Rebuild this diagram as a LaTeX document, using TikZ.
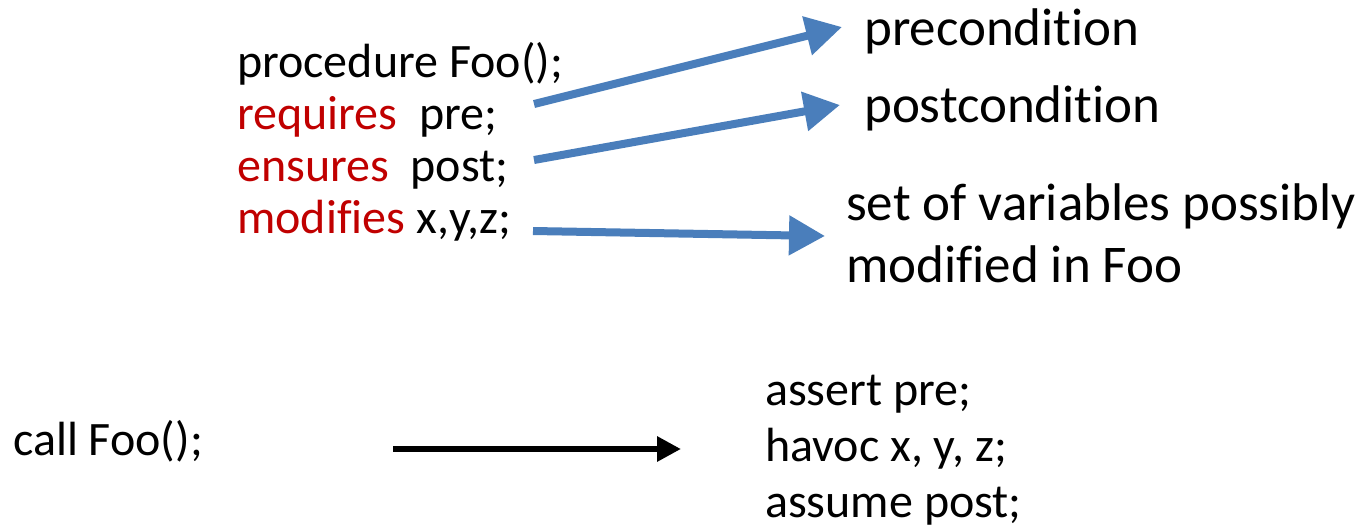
\documentclass[tikz,border=0pt]{standalone}
\usepackage{fontspec}
\setmainfont[Ligatures=CommonOff]{Carlito}
\usetikzlibrary{arrows.meta}
\definecolor{rot}{HTML}{C00000}
\definecolor{blau}{HTML}{4A7EBB}

\begin{document}
\begin{tikzpicture}[x=1pt,y=-1pt,
        code/.style={anchor=base west, inner sep=0pt, font=\fontsize{48}{50}\selectfont},
        erklaerung/.style={anchor=base west, inner sep=0pt, font=\fontsize{53}{60}\selectfont},
        blaupfeil/.style={draw=blau, line width=8pt, -{Triangle[length=36pt,width=38pt]}},
        schwarzpfeil/.style={draw=black, line width=6pt, -{Triangle[length=24pt,width=24pt]}}]
        \useasboundingbox (0,0) rectangle (1363,528);

        % Spezifikation
        \node [code] (prozedur) at (237,77) {procedure Foo();};
        \node [code] (requires) at (237,129) {\textcolor{rot}{requires}\ \ pre;};
        \node [code] (ensures) at (237,181) {\textcolor{rot}{ensures}\ \ post;};
        \node [code] (modifies) at (237,233) {\textcolor{rot}{modifies} x,y,z;};

        % Erklaerungen
        \node [erklaerung] (vorbedingung) at (864,45) {precondition};
        \node [erklaerung] (nachbedingung) at (864,122) {postcondition};
        \node [erklaerung] (variablen) at (846,220) {set of variables possibly};
        \node [erklaerung] (variablen2) at (846,282) {modified in Foo};

        % Aufruf
        \node [code] (aufruf) at (13,455) {call Foo();};
        \node [code] (assert) at (765,405) {assert pre;};
        \node [code] (havoc) at (765,461) {havoc x, y, z;};
        \node [code] (assume) at (765,517) {assume post;};

        % Pfeile
        \coordinate (start1) at (534,104);
        \coordinate (start2) at (534,160);
        \coordinate (start3) at (533,231);
        \coordinate (ziel1) at (842,27);
        \coordinate (ziel2) at (840,105);
        \coordinate (ziel3) at (825,236);
        \draw [blaupfeil] (start1) -- (ziel1);
        \draw [blaupfeil] (start2) -- (ziel2);
        \draw [blaupfeil] (start3) -- (ziel3);

        \coordinate (links) at (393,449);
        \coordinate (rechts) at (681,449);
        \draw [schwarzpfeil] (links) -- (rechts);
\end{tikzpicture}
\end{document}
